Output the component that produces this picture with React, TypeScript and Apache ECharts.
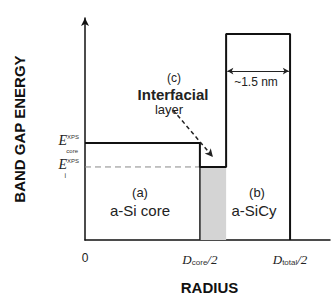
import React, { useEffect, useRef } from "react";
import * as echarts from "echarts";

// Band-gap profile (radius in % of axis, energy in % of axis)
const profileRadius = [0, 46.9, 46.9, 57.6, 57.6, 83.7, 83.7];
const profileEnergy = [43.7, 43.7, 32.9, 32.9, 92.8, 92.8, 0];
const interfaceLevel = 32.9;
const coreEdge = 46.9;
const interfaceEdge = 57.6;
const shellEdge = 83.7;
const xTickValues = [0, 46.9, 83.7];
const xTickLabels = ["0", "{d|D}{s|core}{d|/2}", "{d|D}{s|total}{d|/2}"];
const yTickValues = [32.9, 43.7];
const yTickLabels = ["{e|E}{sup|XPS}\n{subi|i}", "{e|E}{sup|XPS}\n{sub|core}"];
const arrowInterfaceFrom = [35.9, 58.6];
const arrowInterfaceTo = [52.2, 37.4];
const shellArrowY = 76.1;

export default function App() {
  const ref = useRef<HTMLDivElement>(null);
  useEffect(() => {
    if (!ref.current) return;
    const chart = echarts.init(ref.current, null, { renderer: "svg" });
    const font = "Liberation Sans, Arial, sans-serif";
    chart.setOption({
      animation: false,
      backgroundColor: "#ffffff",
      grid: { left: 85, right: 2, top: 18, bottom: 55, outerBoundsMode: "none", containLabel: false },
      xAxis: {
        type: "value",
        min: 0,
        max: 100,
        splitLine: { show: false },
        axisLine: { lineStyle: { color: "#111", width: 1.5 } },
        axisTick: { show: false },
        axisLabel: {
          customValues: xTickValues,
          margin: 12,
          color: "#222",
          fontFamily: font,
          fontSize: 12,
          formatter: (v: number) => xTickLabels[xTickValues.indexOf(v)] ?? "",
          rich: {
            d: { fontFamily: "Liberation Serif, serif", fontStyle: "italic", fontSize: 13, color: "#222" },
            s: { fontFamily: font, fontSize: 8, color: "#333", padding: [6, 0, 0, 0] },
          },
        },
        name: "RADIUS",
        nameLocation: "middle",
        nameGap: 40,
        nameTextStyle: { fontFamily: font, fontWeight: "bold", fontSize: 15, color: "#111", padding: [0, 0, 0, 4] },
      },
      yAxis: {
        type: "value",
        min: 0,
        max: 100,
        splitLine: { show: false },
        axisLine: { show: true, symbol: ["none", "arrow"], symbolSize: [6, 8], lineStyle: { color: "#111", width: 1.5 } },
        axisTick: { show: false },
        axisLabel: {
          customValues: yTickValues,
          margin: 6,
          color: "#222",
          padding: [3, 0, 0, 0],
          formatter: (v: number) => yTickLabels[yTickValues.indexOf(v)] ?? "",
          rich: {
            e: { fontFamily: "Liberation Serif, serif", fontStyle: "italic", fontSize: 14, color: "#222", lineHeight: 14 },
            sup: { fontFamily: font, fontSize: 6, color: "#333", verticalAlign: "top", lineHeight: 14 },
            sub: { fontFamily: font, fontSize: 6, color: "#333", lineHeight: 7, padding: [0, 1, 0, 0] },
            subi: { fontFamily: font, fontSize: 7, color: "#333", lineHeight: 7, padding: [0, 13, 0, 0] },
          },
        },
        name: "BAND GAP ENERGY",
        nameLocation: "middle",
        nameRotate: 90,
        nameGap: 58,
        nameTextStyle: { fontFamily: font, fontWeight: "bold", fontSize: 15, color: "#111" },
      },
      series: [
        {
          type: "line",
          data: profileRadius.map((r, i) => [r, profileEnergy[i]]),
          symbol: "none",
          lineStyle: { color: "#111", width: 2 },
          z: 5,
          markArea: {
            silent: true,
            itemStyle: { color: "#d4d4d4", borderWidth: 0 },
            data: [[{ coord: [coreEdge, 0] }, { coord: [interfaceEdge, interfaceLevel] }]],
          },
        },
        {
          type: "line",
          data: [[0, interfaceLevel], [coreEdge, interfaceLevel]],
          symbol: "none",
          lineStyle: { color: "#888", width: 1, type: [6, 4] },
        },
        {
          type: "line",
          data: [[coreEdge, 0], [coreEdge, interfaceLevel]],
          symbol: "none",
          lineStyle: { color: "#222", width: 1.5 },
          markLine: {
            silent: true,
            label: { show: false },
            data: [
              [
                { coord: arrowInterfaceFrom, symbol: "none", lineStyle: { color: "#222", width: 1.5, type: [4, 3] } },
                { coord: arrowInterfaceTo, symbol: "arrow", symbolSize: [6, 8] },
              ],
              [
                { coord: [interfaceEdge + 0.5, shellArrowY], symbol: "arrow", symbolSize: [5, 6], lineStyle: { color: "#222", width: 1, type: "solid" } },
                { coord: [shellEdge - 0.5, shellArrowY], symbol: "arrow", symbolSize: [5, 6] },
              ],
            ],
          },
        },
      ],
      graphic: [
        { type: "text", x: 174, y: 78, style: { text: "(c)", font: `12px ${font}`, fill: "#222", align: "center", verticalAlign: "middle" } },
        { type: "text", x: 173, y: 94, style: { text: "Interfacial", font: `bold 15px ${font}`, fill: "#222", align: "center", verticalAlign: "middle" } },
        { type: "text", x: 169, y: 109, style: { text: "layer", font: `13px ${font}`, fill: "#222", align: "center", verticalAlign: "middle" } },
        { type: "text", x: 140, y: 192, style: { text: "(a)", font: `13px ${font}`, fill: "#222", align: "center", verticalAlign: "middle" } },
        { type: "text", x: 140, y: 210, style: { text: "a-Si core", font: `15px ${font}`, fill: "#222", align: "center", verticalAlign: "middle" } },
        { type: "text", x: 257, y: 192, style: { text: "(b)", font: `13px ${font}`, fill: "#222", align: "center", verticalAlign: "middle" } },
        { type: "text", x: 254, y: 210, style: { text: "a-SiCy", font: `15px ${font}`, fill: "#222", align: "center", verticalAlign: "middle" } },
        { type: "text", x: 256, y: 82, style: { text: "~1.5 nm", font: `12px ${font}`, fill: "#222", align: "center", verticalAlign: "middle" } },
      ],
    });
    return () => chart.dispose();
  }, []);
  return <div ref={ref} style={{ width: 332, height: 295, position: "absolute", left: 0, top: 0 }} />;
}
